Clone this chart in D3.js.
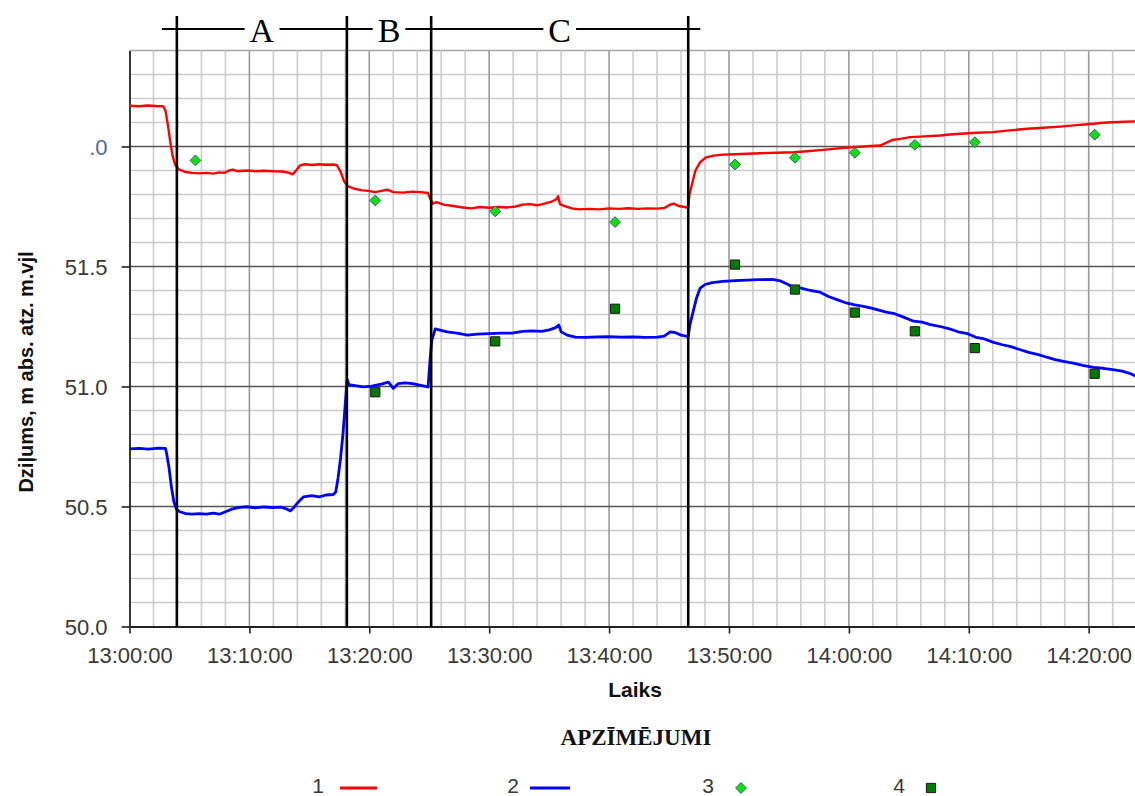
<!DOCTYPE html>
<html>
<head>
<meta charset="utf-8">
<script src="https://cdn.jsdelivr.net/npm/d3@7"></script>
<style>
  body { margin: 0; background: #fff; }
  svg { display: block; }
</style>
</head>
<body>
<svg id="chart"></svg>
<script>
// minutes after 13:00:00, level (m abs.)
const series1 = [
  [0, 52.170], [0.8, 52.168], [1.5, 52.171], [2.2, 52.169], [2.8, 52.168], [3.0, 52.15],
  [3.2, 52.09], [3.4, 52.02], [3.6, 51.96], [3.8, 51.925], [4.1, 51.905], [4.6, 51.895],
  [5.2, 51.89], [5.8, 51.888], [6.4, 51.89], [7.0, 51.887], [7.5, 51.892], [7.9, 51.89],
  [8.3, 51.9], [8.6, 51.904], [9.0, 51.897], [9.8, 51.9], [10.5, 51.897], [11.2, 51.899],
  [12.0, 51.897], [12.8, 51.896], [13.3, 51.89], [13.6, 51.884], [13.9, 51.9], [14.2, 51.92],
  [14.6, 51.926], [15.2, 51.923], [15.8, 51.926], [16.4, 51.924], [17.0, 51.925], [17.3, 51.922],
  [17.6, 51.895], [17.9, 51.855], [18.2, 51.835], [18.7, 51.825], [19.3, 51.818], [19.9, 51.815],
  [20.5, 51.81], [21.0, 51.815], [21.5, 51.82], [22.0, 51.81], [22.8, 51.808], [23.6, 51.812],
  [24.3, 51.81], [24.9, 51.806], [25.1, 51.78], [25.3, 51.762], [25.6, 51.768], [26.2, 51.758],
  [27.0, 51.752], [27.8, 51.746], [28.5, 51.742], [29.2, 51.748], [30.0, 51.745], [30.8, 51.748],
  [31.5, 51.746], [32.2, 51.75], [32.8, 51.758], [33.4, 51.76], [34.0, 51.755], [34.6, 51.762],
  [35.2, 51.77], [35.6, 51.78], [35.75, 51.793], [35.9, 51.76], [36.3, 51.752], [36.9, 51.742],
  [37.5, 51.738], [38.3, 51.74], [39.2, 51.738], [40.0, 51.742], [40.8, 51.74], [41.6, 51.743],
  [42.4, 51.74], [43.2, 51.742], [44.0, 51.741], [44.6, 51.744], [45.1, 51.758], [45.4, 51.762],
  [45.8, 51.752], [46.3, 51.748], [46.6, 51.745], [46.7, 51.8], [46.9, 51.84], [47.2, 51.9],
  [47.6, 51.935], [48.1, 51.955], [48.7, 51.962], [49.5, 51.966], [50.5, 51.968], [51.5, 51.97],
  [52.6, 51.972], [54.0, 51.974], [55.4, 51.976], [56.5, 51.98], [57.6, 51.985], [58.7, 51.99],
  [60.1, 51.997], [61.2, 52.0], [62.6, 52.004], [63.1, 52.015], [63.6, 52.027], [64.3, 52.032],
  [65.1, 52.039], [66.3, 52.042], [67.6, 52.046], [68.4, 52.05], [69.3, 52.053], [70.6, 52.057],
  [72.0, 52.06], [73.4, 52.067], [74.9, 52.074], [76.2, 52.078], [77.6, 52.083], [79.0, 52.089],
  [80.4, 52.095], [81.2, 52.099], [82.0, 52.101], [83.0, 52.103], [84.0, 52.105]
];

const series2 = [
  [0, 50.740], [0.8, 50.742], [1.6, 50.739], [2.4, 50.743], [3.0, 50.742], [3.1, 50.72],
  [3.3, 50.66], [3.5, 50.58], [3.7, 50.52], [3.9, 50.49], [4.2, 50.478], [4.7, 50.47],
  [5.2, 50.468], [5.8, 50.47], [6.4, 50.468], [7.0, 50.472], [7.5, 50.468], [8.0, 50.478],
  [8.6, 50.49], [9.2, 50.496], [9.8, 50.499], [10.5, 50.494], [11.2, 50.498], [12.0, 50.495],
  [12.6, 50.497], [13.1, 50.49], [13.4, 50.482], [13.7, 50.495], [14.1, 50.52], [14.5, 50.54],
  [15.2, 50.545], [15.8, 50.54], [16.4, 50.548], [17.0, 50.55], [17.2, 50.56], [17.4, 50.62],
  [17.6, 50.7], [17.8, 50.8], [18.0, 50.93], [18.15, 51.03], [18.3, 51.008], [18.8, 51.004],
  [19.5, 50.998], [20.2, 51.002], [21.0, 51.01], [21.6, 51.018], [22.0, 50.992], [22.4, 51.012],
  [23.0, 51.015], [23.6, 51.012], [24.3, 51.005], [24.9, 50.998], [25.05, 51.1], [25.2, 51.19],
  [25.5, 51.24], [25.9, 51.235], [26.5, 51.228], [27.3, 51.222], [28.2, 51.214], [29.0, 51.218],
  [30.0, 51.22], [31.0, 51.222], [32.0, 51.223], [32.8, 51.23], [33.6, 51.232], [34.4, 51.23],
  [35.0, 51.236], [35.5, 51.244], [35.8, 51.256], [36.0, 51.228], [36.5, 51.214], [37.2, 51.206],
  [38.0, 51.205], [39.0, 51.207], [40.0, 51.208], [41.0, 51.206], [42.0, 51.207], [43.0, 51.205],
  [44.0, 51.206], [44.6, 51.21], [45.1, 51.228], [45.5, 51.225], [46.0, 51.214], [46.6, 51.208],
  [46.75, 51.26], [47.0, 51.31], [47.3, 51.37], [47.6, 51.41], [48.0, 51.425], [48.6, 51.433],
  [49.5, 51.438], [50.5, 51.441], [51.5, 51.443], [52.5, 51.445], [53.6, 51.446], [54.3, 51.44],
  [54.8, 51.428], [55.35, 51.414], [56.0, 51.41], [56.8, 51.4], [57.6, 51.393], [58.3, 51.375],
  [59.0, 51.362], [59.85, 51.347], [60.5, 51.34], [61.2, 51.334], [61.8, 51.328], [62.5, 51.318],
  [63.1, 51.31], [63.7, 51.305], [64.5, 51.29], [65.4, 51.272], [66.1, 51.268], [66.8, 51.258],
  [67.6, 51.25], [68.4, 51.24], [69.1, 51.228], [69.9, 51.22], [70.6, 51.205], [71.3, 51.198],
  [72.0, 51.185], [72.8, 51.174], [73.5, 51.166], [74.3, 51.153], [75.0, 51.142], [75.8, 51.133],
  [76.5, 51.122], [77.2, 51.112], [78.0, 51.104], [78.7, 51.097], [79.5, 51.088], [80.4, 51.08],
  [81.2, 51.076], [82.0, 51.07], [82.8, 51.064], [83.4, 51.055], [84.0, 51.042]
];

// measured points
const series3 = [
  [5.5, 51.942], [20.5, 51.775], [30.5, 51.730], [40.5, 51.685], [50.5, 51.925],
  [55.5, 51.953], [60.5, 51.974], [65.5, 52.007], [70.5, 52.018], [80.5, 52.049]
];
const series4 = [
  [20.5, 50.976], [30.5, 51.188], [40.5, 51.324], [50.5, 51.508], [55.5, 51.404],
  [60.5, 51.308], [65.5, 51.230], [70.5, 51.160], [80.5, 51.053]
];

// test stage boundaries (minutes) and names
const stageBounds = [3.95, 18.13, 25.16, 46.6];
const stageNames = ["A", "B", "C"];

const yTickValues = [50.0, 50.5, 51.0, 51.5, 52.0];
const yTickLabels = ["50.0", "50.5", "51.0", "51.5", ".0"];
const legendLabels = ["1", "2", "3", "4"];

const width = 1135;
const height = 796;
const sans = "'Liberation Sans', Arial, sans-serif";
const serif = "'Liberation Serif', 'Times New Roman', serif";

const t0 = new Date(2000, 0, 1, 13, 0, 0);
const toTime = m => new Date(t0.getTime() + m * 60000);

const svg = d3.select("#chart")
              .attr("width", width)
              .attr("height", height);

const x = d3.scaleTime()
            .domain([toTime(0), toTime(84)])
            .range([129.5, 129.5 + 84 * 11.99]);

const y = d3.scaleLinear()
            .domain([50, 52.4])
            .range([626.5, 50.5]);

const plotLeft = x.range()[0];
const plotRight = width;
const plotTop = y(52.4);
const plotBottom = y(50);

// grid
const grid = svg.append("g");
const minorY = d3.range(1, 25).map(i => 50 + i * 0.1).filter(v => Math.abs(v * 2 - Math.round(v * 2)) > 1e-6);
const minorX = d3.range(2, 85, 2).filter(m => m % 10 !== 0);

grid.selectAll(".minor-h")
    .data(minorY)
    .enter()
    .append("line")
    .attr("x1", plotLeft).attr("x2", plotRight)
    .attr("y1", d => y(d)).attr("y2", d => y(d))
    .attr("stroke", d => d > 52.35 ? "#a8a8a8" : "#cdcdcd")
    .attr("stroke-width", 1.6);

grid.selectAll(".minor-v")
    .data(minorX)
    .enter()
    .append("line")
    .attr("x1", d => x(toTime(d))).attr("x2", d => x(toTime(d)))
    .attr("y1", plotTop).attr("y2", plotBottom)
    .attr("stroke", "#cdcdcd")
    .attr("stroke-width", 1.6);

grid.selectAll(".major-v")
    .data(d3.range(10, 85, 10))
    .enter()
    .append("line")
    .attr("x1", d => x(toTime(d))).attr("x2", d => x(toTime(d)))
    .attr("y1", plotTop).attr("y2", plotBottom)
    .attr("stroke", "#9a9a9a")
    .attr("stroke-width", 1.6);

grid.selectAll(".major-h")
    .data(yTickValues.slice(1))
    .enter()
    .append("line")
    .attr("x1", plotLeft).attr("x2", plotRight)
    .attr("y1", d => y(d)).attr("y2", d => y(d))
    .attr("stroke", "#555")
    .attr("stroke-width", 1.6);

// axes
const yAxis = d3.axisLeft(y)
                .tickValues(yTickValues)
                .tickFormat((d, i) => yTickLabels[i])
                .tickSize(8)
                .tickSizeOuter(0)
                .tickPadding(14);

const xAxis = d3.axisBottom(x)
                .ticks(d3.timeMinute.every(10))
                .tickFormat(d3.timeFormat("%H:%M:%S"))
                .tickSize(7)
                .tickSizeOuter(0)
                .tickPadding(10);

const gx = svg.append("g")
              .attr("transform", "translate(0," + plotBottom + ")")
              .call(xAxis);

const gy = svg.append("g")
              .attr("transform", "translate(" + plotLeft + ",0)")
              .call(yAxis);

[gx, gy].forEach(g => {
  g.select(".domain").attr("stroke", "#222").attr("stroke-width", 1.8);
  g.selectAll(".tick line").attr("stroke", "#222").attr("stroke-width", 1.6);
  g.selectAll(".tick text")
   .attr("fill", "#3a3a3a")
   .style("font-family", sans)
   .style("font-size", "22px");
});
gy.selectAll(".tick text").attr("dy", "0.36em")
  .attr("fill", (d, i) => i === yTickLabels.length - 1 ? "#4e6c96" : "#3a3a3a");
gx.selectAll(".tick text").attr("dy", "0.9em");

// axis titles
svg.append("text")
   .attr("x", 635)
   .attr("y", 697)
   .attr("text-anchor", "middle")
   .style("font-family", sans)
   .style("font-size", "21px")
   .style("font-weight", "bold")
   .attr("fill", "#111")
   .text("Laiks");

svg.append("text")
   .attr("transform", "translate(33,372) rotate(-90)")
   .attr("text-anchor", "middle")
   .style("font-family", sans)
   .style("font-size", "20px")
   .style("font-weight", "bold")
   .attr("fill", "#111")
   .text("Dziļums, m abs. atz. m.vjl");

// data lines
const line = d3.line()
               .x(d => x(toTime(d[0])))
               .y(d => y(d[1]));

svg.append("path")
   .datum(series1)
   .attr("fill", "none")
   .attr("stroke", "#ff0000")
   .attr("stroke-width", 2.4)
   .attr("stroke-linejoin", "round")
   .attr("d", line);

svg.append("path")
   .datum(series2)
   .attr("fill", "none")
   .attr("stroke", "#0000ff")
   .attr("stroke-width", 2.8)
   .attr("stroke-linejoin", "round")
   .attr("d", line);

// stage markers
const stages = svg.append("g");
const bx = stageBounds.map(m => x(toTime(m)));

stages.append("line")
      .attr("x1", bx[0] - 15).attr("x2", bx[bx.length - 1] + 12)
      .attr("y1", 29).attr("y2", 29)
      .attr("stroke", "#000")
      .attr("stroke-width", 2);

stages.selectAll(".bound")
      .data(bx)
      .enter()
      .append("line")
      .attr("x1", d => d).attr("x2", d => d)
      .attr("y1", 16).attr("y2", plotBottom)
      .attr("stroke", "#000")
      .attr("stroke-width", 2.6);

stageNames.forEach((name, i) => {
  const cx = (bx[i] + bx[i + 1]) / 2;
  const label = stages.append("text")
                      .attr("x", cx)
                      .attr("y", 42)
                      .attr("text-anchor", "middle")
                      .style("font-family", serif)
                      .style("font-size", "34px")
                      .attr("fill", "#000")
                      .text(name);
  const bb = label.node().getBBox();
  stages.insert("rect", "text")
        .attr("x", bb.x - 5)
        .attr("y", 22)
        .attr("width", bb.width + 10)
        .attr("height", 14)
        .attr("fill", "#fff");
});

// measured markers
const diamond = d3.symbol().type(d3.symbolDiamond2).size(75);
const square = d3.symbol().type(d3.symbolSquare).size(85);

svg.append("g")
   .selectAll("path")
   .data(series3)
   .enter()
   .append("path")
   .attr("transform", d => "translate(" + x(toTime(d[0])) + "," + y(d[1]) + ")")
   .attr("d", diamond)
   .attr("fill", "#10e010")
   .attr("stroke", "#3d5a7a")
   .attr("stroke-width", 1);

svg.append("g")
   .selectAll("path")
   .data(series4)
   .enter()
   .append("path")
   .attr("transform", d => "translate(" + x(toTime(d[0])) + "," + y(d[1]) + ")")
   .attr("d", square)
   .attr("fill", "#007a00")
   .attr("stroke", "#1a1a1a")
   .attr("stroke-width", 1);

// legend
svg.append("text")
   .attr("x", 636)
   .attr("y", 745)
   .attr("text-anchor", "middle")
   .style("font-family", serif)
   .style("font-size", "23px")
   .style("font-weight", "bold")
   .attr("fill", "#111")
   .text("APZĪMĒJUMI");

const legendX = [318, 513, 708, 899];
const legend = svg.append("g");
legendLabels.forEach((lab, i) => {
  legend.append("text")
        .attr("x", legendX[i])
        .attr("y", 793)
        .attr("text-anchor", "middle")
        .style("font-family", sans)
        .style("font-size", "21px")
        .attr("fill", "#3a3a3a")
        .text(lab);
});
legend.append("line")
      .attr("x1", 340).attr("x2", 377).attr("y1", 788).attr("y2", 788)
      .attr("stroke", "#ff0000").attr("stroke-width", 3);
legend.append("line")
      .attr("x1", 530).attr("x2", 570).attr("y1", 788).attr("y2", 788)
      .attr("stroke", "#0000ff").attr("stroke-width", 3);
legend.append("path")
      .attr("transform", "translate(741,788)")
      .attr("d", diamond)
      .attr("fill", "#10e010").attr("stroke", "#3d5a7a");
legend.append("path")
      .attr("transform", "translate(931,788)")
      .attr("d", square)
      .attr("fill", "#007a00").attr("stroke", "#1a1a1a");
</script>
</body>
</html>
